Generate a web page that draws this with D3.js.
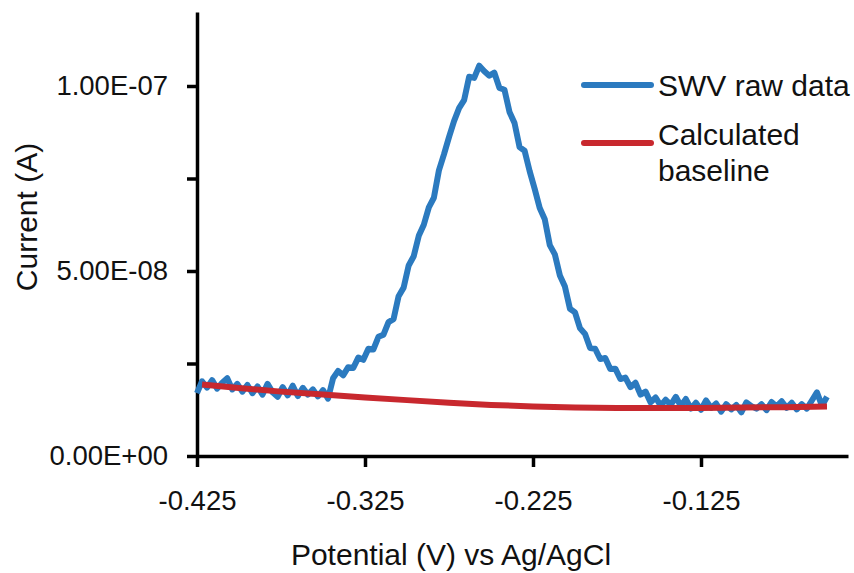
<!DOCTYPE html>
<html>
<head>
<meta charset="utf-8">
<script src="https://cdn.jsdelivr.net/npm/d3@7"></script>
<style>
  body { margin: 0; background: #fff; }
  svg { font-family: "Liberation Sans", Arial, sans-serif; }
  .axis path, .axis line { stroke: #000; stroke-width: 3.5; }
  .axis text { font-size: 27.5px; fill: #111; }
</style>
</head>
<body>
<svg width="854" height="573"></svg>
<script>

// SWV scan, potential step 3 mV starting at -0.425 V
const potentialStart = -0.425;
const potentialStep = 0.003;

// current, in units of 1e-8 A
const rawCurrent = [
  1.70, 2.02, 1.85, 2.05, 1.82, 1.98, 2.10, 1.80, 1.95, 1.74,
  1.92, 1.70, 1.88, 1.66, 1.95, 1.72, 1.60, 1.86, 1.64, 1.90,
  1.62, 1.84, 1.66, 1.80, 1.61, 1.78, 1.55, 2.10, 2.30, 2.18,
  2.40, 2.38, 2.66, 2.60, 2.90, 2.88, 3.22, 3.28, 3.62, 3.70,
  4.32, 4.55, 5.15, 5.40, 5.95, 6.25, 6.72, 6.98, 7.72, 8.15,
  8.62, 9.05, 9.40, 9.62, 10.25, 10.22, 10.55, 10.40, 10.28, 10.36,
  9.95, 9.90, 9.30, 9.00, 8.35, 8.25, 7.70, 7.22, 6.70, 6.40,
  5.70, 5.45, 4.88, 4.58, 3.98, 3.88, 3.45, 3.30, 2.92, 2.90,
  2.62, 2.65, 2.35, 2.36, 2.08, 2.12, 1.86, 1.98, 1.66, 1.74,
  1.45, 1.58, 1.36, 1.52, 1.38, 1.60, 1.35, 1.54, 1.28, 1.44,
  1.25, 1.50, 1.30, 1.42, 1.20, 1.40, 1.26, 1.38, 1.18, 1.45,
  1.35, 1.28, 1.40, 1.24, 1.46, 1.34, 1.48, 1.30, 1.44, 1.26,
  1.40, 1.28, 1.50, 1.72, 1.36, 1.60
];

const baselinePotential = [-0.422, -0.4, -0.375, -0.35, -0.325, -0.3, -0.275, -0.25,
  -0.225, -0.2, -0.175, -0.15, -0.125, -0.1, -0.075, -0.05];
const baselineCurrent = [1.93, 1.84, 1.74, 1.66, 1.58, 1.51, 1.44, 1.38,
  1.34, 1.31, 1.30, 1.30, 1.30, 1.31, 1.32, 1.34];

const xTickValues = [-0.425, -0.325, -0.225, -0.125];
const xTickLabels = ['-0.425', '-0.325', '-0.225', '-0.125'];
const yTickValues = [0, 5e-8, 1e-7];
const yTickLabels = ['0.00E+00', '5.00E-08', '1.00E-07'];
const yMinorTicks = [2.5e-8, 7.5e-8];

const seriesNames = ['SWV raw data', 'Calculated baseline'];
const colors = ['#2b7abf', '#c8282e'];

const rawData = rawCurrent.map((c, i) => ({ v: potentialStart + i * potentialStep, c: c * 1e-8 }));
const baseData = baselineCurrent.map((c, i) => ({ v: baselinePotential[i], c: c * 1e-8 }));

const svg = d3.select('svg');

// plot area
const plotLeft = 197, plotRight = 848, plotTop = 12, plotBottom = 456;

const x = d3.scaleLinear().domain([-0.425, -0.0375]).range([plotLeft, plotRight]);
const y = d3.scaleLinear().domain([0, 1.2e-7]).range([plotBottom, plotTop]);

// axes
svg.append('g')
    .attr('class', 'axis')
    .attr('transform', `translate(0, ${plotBottom})`)
    .call(d3.axisBottom(x).tickValues(xTickValues).tickSize(11).tickSizeOuter(0)
      .tickFormat((d, i) => xTickLabels[i]))
    .call(g => g.selectAll('text').attr('y', 34).attr('dy', '0.71em'));

svg.append('g')
    .attr('class', 'axis')
    .attr('transform', `translate(${plotLeft}, 0)`)
    .call(d3.axisLeft(y).tickValues(yTickValues).tickSize(10).tickPadding(19).tickSizeOuter(0)
      .tickFormat((d, i) => yTickLabels[i]));

svg.append('g')
    .attr('class', 'axis')
    .attr('transform', `translate(${plotLeft}, 0)`)
    .call(d3.axisLeft(y).tickValues(yMinorTicks).tickSize(10).tickSizeOuter(0).tickFormat(''))
    .call(g => g.select('.domain').remove());

// lines
const line = d3.line().x(d => x(d.v)).y(d => y(d.c));

svg.append('path')
    .datum(rawData)
    .attr('fill', 'none')
    .attr('stroke', colors[0])
    .attr('stroke-width', 6)
    .attr('stroke-linejoin', 'round')
    .attr('d', line);

svg.append('path')
    .datum(baseData)
    .attr('fill', 'none')
    .attr('stroke', colors[1])
    .attr('stroke-width', 6)
    .attr('stroke-linejoin', 'round')
    .attr('d', line);

// axis titles
svg.append('text')
    .attr('x', 451)
    .attr('y', 565)
    .attr('text-anchor', 'middle')
    .style('font-size', '30px')
    .attr('fill', '#111')
    .text('Potential (V) vs Ag/AgCl');

svg.append('text')
    .attr('transform', 'translate(37, 217) rotate(-90)')
    .attr('text-anchor', 'middle')
    .style('font-size', '30px')
    .attr('fill', '#111')
    .text('Current (A)');

// legend
const legend = svg.append('g');
const legendY = [85, 143];

legend.selectAll('line')
    .data(seriesNames)
    .enter()
    .append('line')
    .attr('x1', 584)
    .attr('x2', 651)
    .attr('y1', (d, i) => legendY[i])
    .attr('y2', (d, i) => legendY[i])
    .attr('stroke', (d, i) => colors[i])
    .attr('stroke-width', 6)
    .attr('stroke-linecap', 'round');

legend.append('text')
    .attr('x', 658).attr('y', 96)
    .style('font-size', '30px').attr('fill', '#111')
    .text('SWV raw data');

legend.append('text')
    .attr('x', 658).attr('y', 145)
    .style('font-size', '30px').attr('fill', '#111')
    .text('Calculated');

legend.append('text')
    .attr('x', 658).attr('y', 181)
    .style('font-size', '30px').attr('fill', '#111')
    .text('baseline');

</script>
</body>
</html>
